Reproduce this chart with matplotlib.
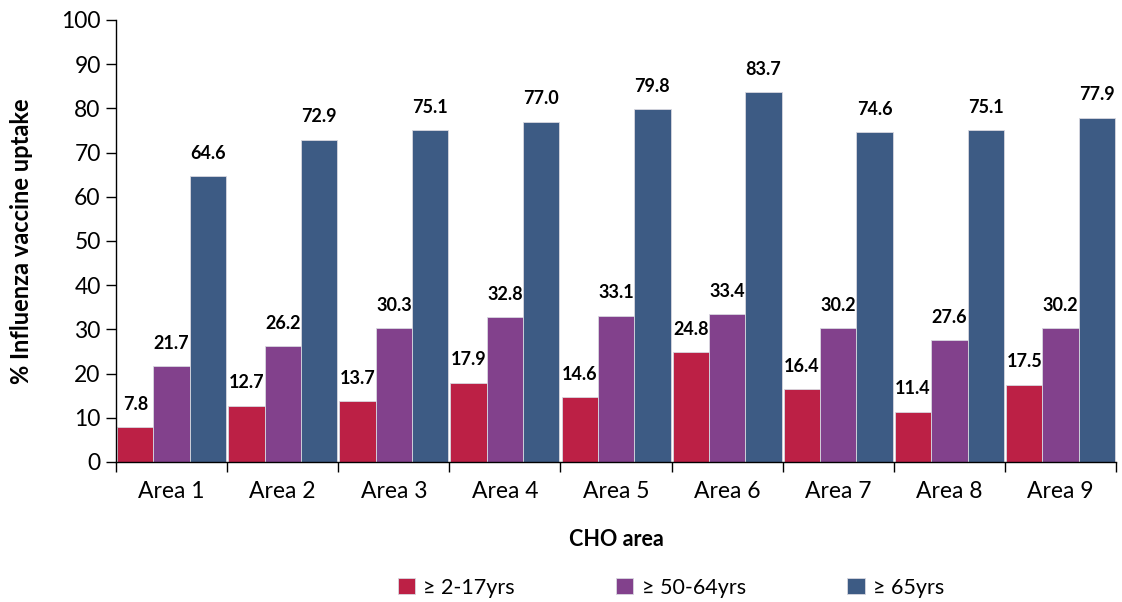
import matplotlib
matplotlib.use("Agg")
import matplotlib.pyplot as plt
import numpy as np

plt.rcParams['font.family'] = ['Lato', 'DejaVu Sans']

areas = ['Area 1', 'Area 2', 'Area 3', 'Area 4', 'Area 5', 'Area 6', 'Area 7', 'Area 8', 'Area 9']
age_2_17 = [7.8, 12.7, 13.7, 17.9, 14.6, 24.8, 16.4, 11.4, 17.5]
age_50_64 = [21.7, 26.2, 30.3, 32.8, 33.1, 33.4, 30.2, 27.6, 30.2]
age_65 = [64.6, 72.9, 75.1, 77.0, 79.8, 83.7, 74.6, 75.1, 77.9]
series_names = ['\u2265 2-17yrs', '\u2265 50-64yrs', '\u2265 65yrs']
colors = ['#BC2045', '#82418C', '#3D5B84']

fig = plt.figure(figsize=(11.22, 6.02), dpi=100)
ax = fig.add_axes([0.1034, 0.2326, 0.8913, 0.7342])

x = np.arange(len(areas))
width = 0.327
offset = 0.01
handles = []
for k, (vals, name, c) in enumerate(zip([age_2_17, age_50_64, age_65], series_names, colors)):
    pos = x + offset + k * width
    bars = ax.bar(pos, vals, width, align='edge', color=c, edgecolor='#d8d8e0',
                  linewidth=0.6, label=name)
    handles.append(bars)
    for p, v in zip(pos, vals):
        ax.annotate(f"{v:.1f}", (p + width / 2, v), xytext=(0, 16.5),
                    textcoords='offset points', ha='center', va='center',
                    fontsize=13, fontweight='bold')

ax.set_xlim(0, len(areas))
ax.set_ylim(0, 100)
ax.set_yticks(range(0, 101, 10))
ax.set_xticks(np.arange(len(areas) + 1))
ax.set_xticklabels([])
ax.set_xticks(x + 0.5, minor=True)
ax.set_xticklabels(areas, minor=True)
ax.tick_params(axis='x', which='minor', length=0, pad=14, labelsize=16.5)
ax.tick_params(axis='x', which='major', length=7, direction='out', width=1)
ax.tick_params(axis='y', length=7, direction='out', width=1, labelsize=16.5, pad=4)
for s in ['top', 'right']:
    ax.spines[s].set_visible(False)
ax.spines['left'].set_linewidth(1)
ax.spines['bottom'].set_linewidth(1)

ax.set_ylabel('% Influenza vaccine uptake', fontsize=17, fontweight='bold', labelpad=20)
ax.set_xlabel('CHO area', fontsize=15.5, fontweight='bold', labelpad=19)

fig.legend(handles=handles, labels=series_names, loc='center', bbox_to_anchor=(0.598, 0.024),
           ncol=3, frameon=False, fontsize=15.5, handlelength=0.8, handleheight=0.8,
           handletextpad=0.4, columnspacing=4.7)

fig.savefig('out.png', dpi=100)
